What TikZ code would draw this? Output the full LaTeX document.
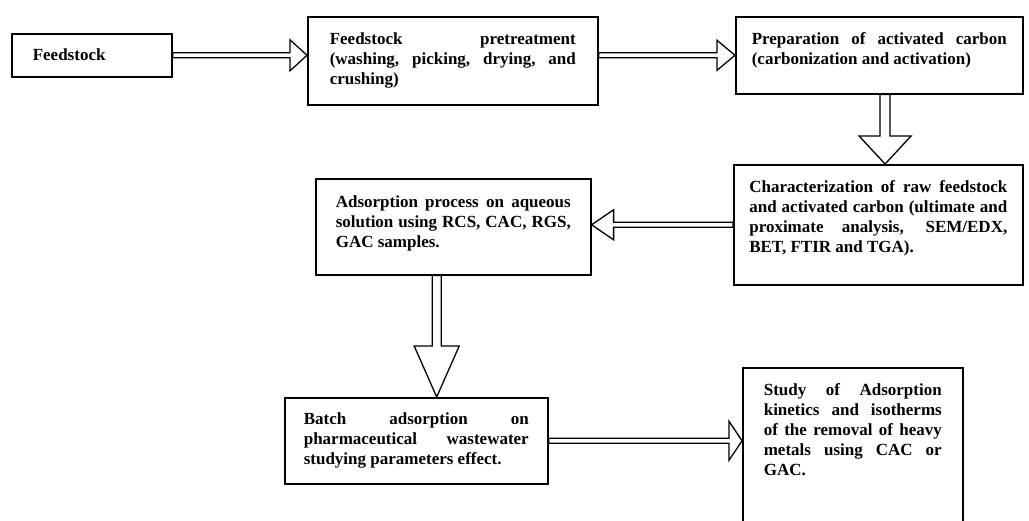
\documentclass[tikz,border=0pt]{standalone}
\usepackage{fontspec}
\setmainfont{Liberation Serif}
\usetikzlibrary{calc}

\newcommand{\stagetext}[3]{\parbox[t][#2][t]{#1}{\tolerance=10000\hyphenpenalty=10000 #3}}
\newcommand{\blockarrow}[5]{%
  \draw[blockline] let \p1=(#1), \p2=(#2),
    \n1={veclen(\x2-\x1,\y2-\y1)}, \n2={(\x2-\x1)/\n1}, \n3={(\y2-\y1)/\n1} in
    ({\x1-\n3*#3},{\y1+\n2*#3})
    -- ({\x2-\n2*#5-\n3*#3},{\y2-\n3*#5+\n2*#3})
    -- ({\x2-\n2*#5-\n3*#4},{\y2-\n3*#5+\n2*#4})
    -- (\p2)
    -- ({\x2-\n2*#5+\n3*#4},{\y2-\n3*#5-\n2*#4})
    -- ({\x2-\n2*#5+\n3*#3},{\y2-\n3*#5-\n2*#3})
    -- ({\x1+\n3*#3},{\y1-\n2*#3}) -- cycle;}

\begin{document}
\begin{tikzpicture}[
  x=1pt, y=-1pt,
  stage/.style={draw,line width=1.6pt,anchor=north west,inner ysep=16pt,font=\bfseries\fontsize{17}{20}\selectfont},
  blockline/.style={draw,fill=white,line width=1.3pt}
]
\useasboundingbox (0,0) rectangle (1029,521);
\node[stage,inner xsep=21pt,inner ysep=15pt] (feed) at (11,33) {\stagetext{118pt}{13pt}{Feedstock}};
\node[stage,inner xsep=22pt] (pretreat) at (307,16) {\stagetext{246pt}{56pt}{Feedstock pretreatment\linebreak (washing, picking, drying, and\linebreak crushing)}};
\node[stage,inner xsep=16pt] (prep) at (735,16) {\stagetext{255pt}{45pt}{Preparation of activated carbon\linebreak (carbonization and activation)}};
\node[stage,inner xsep=15.5pt] (charac) at (733,164) {\stagetext{258pt}{88pt}{Characterization of raw feedstock\linebreak and activated carbon (ultimate and\linebreak proximate analysis, SEM/EDX,\linebreak BET, FTIR and TGA).}};
\node[stage,inner xsep=20pt,inner ysep=17pt] (adsorb) at (315,178) {\stagetext{235pt}{62pt}{Adsorption process on aqueous\linebreak solution using RCS, CAC, RGS,\linebreak GAC samples.}};
\node[stage,inner xsep=19pt,inner ysep=15pt] (batch) at (284,397) {\stagetext{225pt}{56pt}{Batch adsorption on\linebreak pharmaceutical wastewater\linebreak studying parameters effect.}};
\node[stage,inner xsep=21pt] (study) at (742,367) {\stagetext{178pt}{128pt}{Study of Adsorption\linebreak kinetics and isotherms\linebreak of the removal of heavy\linebreak metals using CAC or\linebreak GAC.}};
\coordinate (prepout) at ($(prep.south west)!0.52!(prep.south east)$);
\coordinate (adsorbout) at ($(adsorb.south west)!0.44!(adsorb.south east)$);
\blockarrow{feed.east}{pretreat.west |- feed.east}{2.5pt}{15.5pt}{17pt}
\blockarrow{pretreat.east |- prep.west}{prep.west}{2.5pt}{15pt}{18pt}
\blockarrow{prepout}{prepout |- charac.north}{5pt}{26pt}{28pt}
\blockarrow{charac.west}{adsorb.east |- charac.west}{2.5pt}{15pt}{22pt}
\blockarrow{adsorbout}{adsorbout |- batch.north}{4.5pt}{22.5pt}{51pt}
\blockarrow{batch.east}{study.west |- batch.east}{2.5pt}{19.5pt}{13pt}
\end{tikzpicture}
\end{document}
